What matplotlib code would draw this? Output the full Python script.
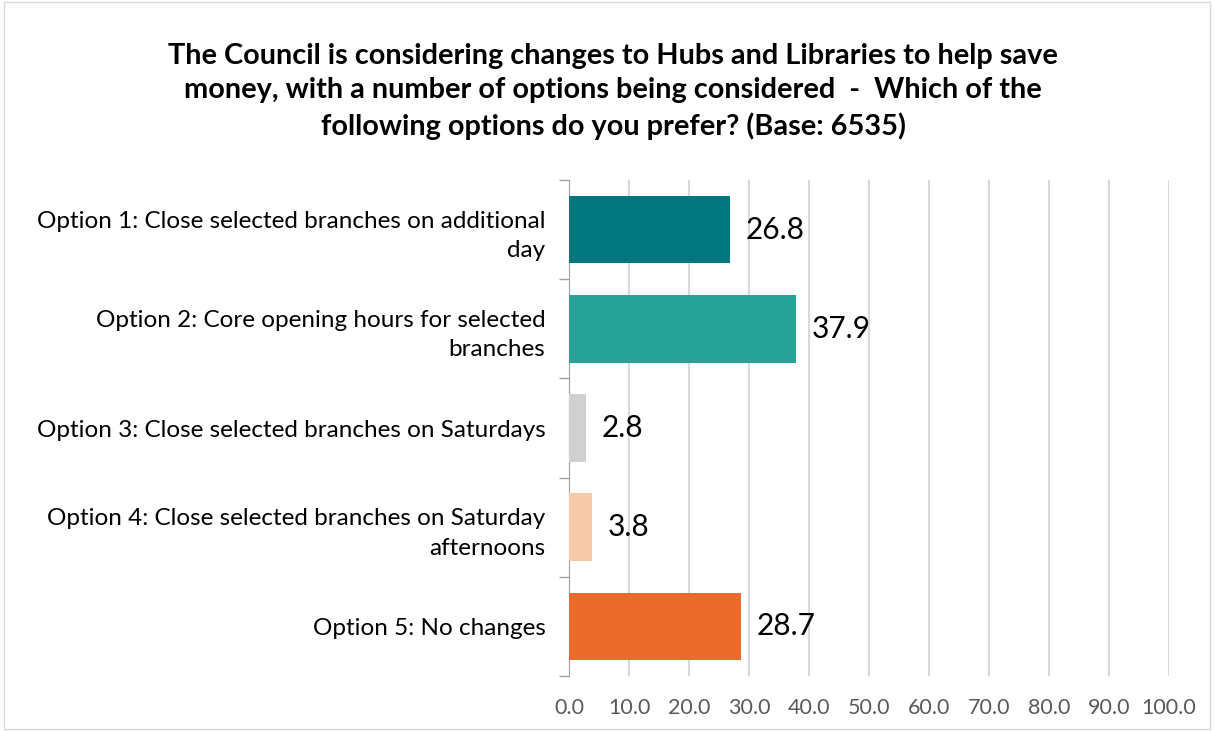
import matplotlib.pyplot as plt

options = [
    "Option 1: Close selected branches on additional\nday",
    "Option 2: Core opening hours for selected\nbranches",
    "Option 3: Close selected branches on Saturdays",
    "Option 4: Close selected branches on Saturday\nafternoons",
    "Option 5: No changes",
]
values = [26.8, 37.9, 2.8, 3.8, 28.7]
colors = ["#00777C", "#27A296", "#D0D0D0", "#F8C9A8", "#EB6B2C"]
x_ticks = [0, 10, 20, 30, 40, 50, 60, 70, 80, 90, 100]

plt.rcParams['font.family'] = ['Lato', 'DejaVu Sans']

fig = plt.figure(figsize=(12.14, 7.31), dpi=100)
ax = fig.add_axes([0.4687, 0.0752, 0.4942, 0.6786])

y = list(range(len(options)))
ax.barh(y, values, height=0.68, color=colors, zorder=3)

for yi, v in zip(y, values):
    ax.text(v + 2.6, yi, f"{v:.1f}", va='center', ha='left', fontsize=21.5, color='black')

ax.set_xlim(0, 100)
ax.set_ylim(len(options) - 0.5, -0.5)
ax.set_xticks(x_ticks)
ax.set_xticklabels([f"{t:.1f}" for t in x_ticks], fontsize=15.5, color='#595959')
ax.tick_params(axis='x', length=0, pad=16)

# category labels, ticks at the boundaries between bars
ax.set_yticks(y)
ax.set_yticklabels(options, fontsize=17.5, ha='right', multialignment='right', linespacing=1.5)
ax.tick_params(axis='y', length=0, pad=17)
ax.set_yticks([i - 0.5 for i in range(len(options) + 1)], minor=True)
ax.tick_params(axis='y', which='minor', length=7, color='#A0A0A0', width=1)

ax.grid(axis='x', color='#D9D9D9', linewidth=1.5, zorder=0)
for s in ['top', 'right', 'bottom']:
    ax.spines[s].set_visible(False)
ax.spines['left'].set_color('#A0A0A0')

fig.text(0.505, 0.875,
         "The Council is considering changes to Hubs and Libraries to help save\n"
         "money, with a number of options being considered  -  Which of the\n"
         "following options do you prefer? (Base: 6535)",
         ha='center', va='center', fontsize=20.8, fontweight='bold', linespacing=1.4)

fig.patches.append(plt.Rectangle((0.003, 0.003), 0.994, 0.994, transform=fig.transFigure,
                                 fill=False, edgecolor='#D9D9D9', linewidth=1))

fig.savefig("out.png", dpi=100)
